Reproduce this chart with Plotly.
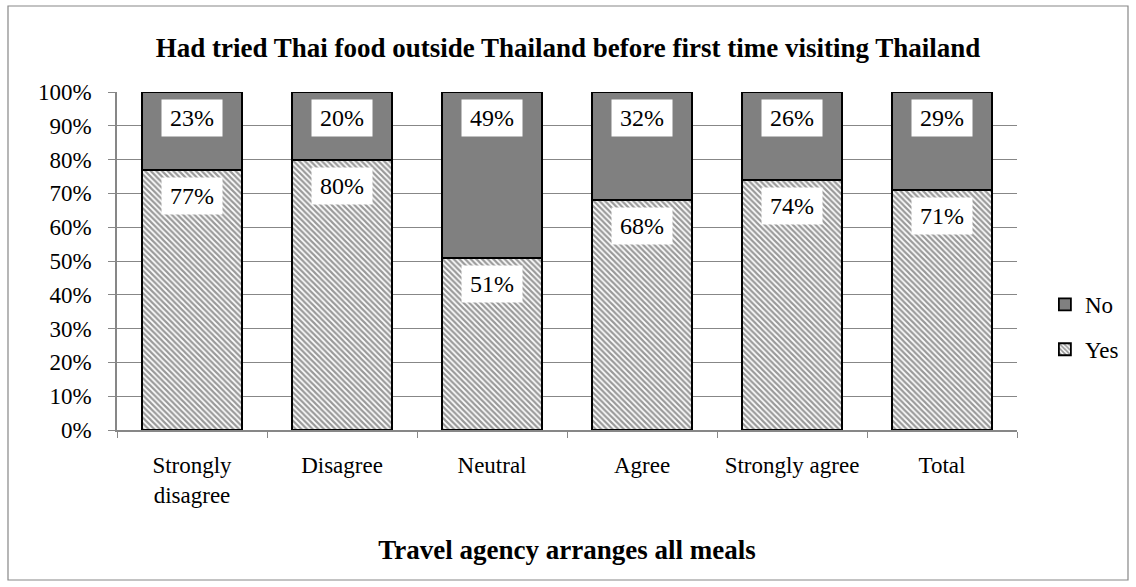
import plotly.graph_objects as go

categories = ["Strongly<br>disagree", "Disagree", "Neutral", "Agree", "Strongly agree", "Total"]
yes_pct = [77, 80, 51, 68, 74, 71]
no_pct = [23, 20, 49, 32, 26, 29]

FONT = "Times New Roman"
GRID = "#878787"

fig = go.Figure()
fig.add_trace(go.Bar(
    x=categories, y=yes_pct, name="Yes", width=0.67,
    legendgroup="yes", legendrank=2,
    marker=dict(color="white", line=dict(color="black", width=1.8),
                pattern=dict(shape="\\", fgcolor="#333333", bgcolor="white",
                             size=4, solidity=0.55)),
))
fig.add_trace(go.Bar(
    x=categories, y=no_pct, name="No", width=0.67,
    legendgroup="no", legendrank=1,
    marker=dict(color="#808080", line=dict(color="black", width=1.8)),
))

# value labels in white boxes near the top of each segment
for cat, y, n in zip(categories, yes_pct, no_pct):
    for top, val in ((y, y), (y + n, n)):
        fig.add_annotation(
            x=cat, y=top, text=f"{val}%", showarrow=False,
            yanchor="top", yshift=-7, bgcolor="white", borderpad=0,
            width=60, height=36,
            font=dict(family=FONT, size=24, color="black"),
        )

# outer chart frame
fig.add_shape(type="rect", xref="paper", yref="paper",
              x0=(8 - 117) / 900, x1=(1128 - 117) / 900,
              y0=(430 - 580) / 338, y1=(430 - 6) / 338,
              line=dict(color=GRID, width=1.2))

fig.update_layout(
    barmode="stack",
    width=1136, height=587,
    margin=dict(l=117, r=119, t=92, b=157, autoexpand=False),
    paper_bgcolor="white", plot_bgcolor="white",
    font=dict(family=FONT, size=23, color="black"),
    title=dict(text="<b>Had tried Thai food outside Thailand before first time visiting Thailand</b>",
               x=0.5, xanchor="center", y=1 - 48 / 587, yanchor="middle",
               font=dict(family=FONT, size=27)),
    legend=dict(x=1.031, y=0.305, xanchor="left", yanchor="middle",
                traceorder="grouped", font=dict(family=FONT, size=23),
                itemwidth=30, tracegroupgap=12),
    showlegend=True,
)
fig.update_xaxes(
    title=dict(text="<b>Travel agency arranges all meals</b>", standoff=33,
               font=dict(family=FONT, size=27)),
    showline=True, linecolor=GRID, linewidth=1.5,
    ticks="outside", tickson="boundaries", ticklen=6, tickcolor=GRID,
    ticklabelstandoff=14,
    tickfont=dict(family=FONT, size=23),
)
fig.update_yaxes(
    range=[0, 100], dtick=10, ticksuffix="%",
    showline=True, linecolor=GRID, linewidth=1.5,
    showgrid=True, gridcolor=GRID, gridwidth=1.3,
    ticks="outside", ticklen=7, tickcolor=GRID,
    ticklabelstandoff=12,
    tickfont=dict(family=FONT, size=23),
)

fig.write_html("out.html")
